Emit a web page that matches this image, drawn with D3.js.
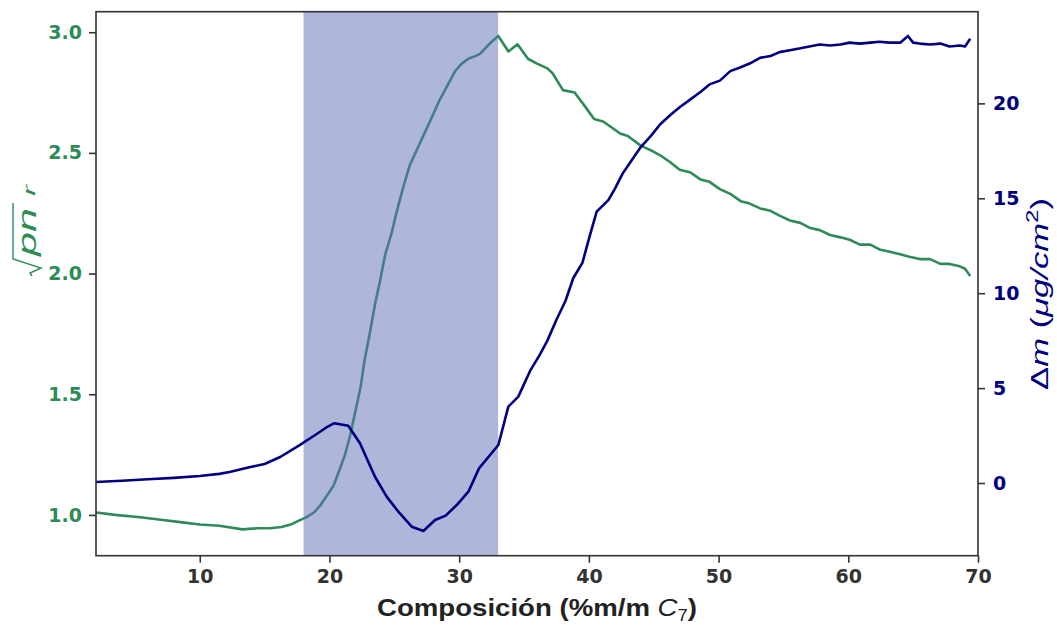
<!DOCTYPE html>
<html>
<head>
<meta charset="utf-8">
<script src="https://cdn.jsdelivr.net/npm/d3@7"></script>
<style>
  html, body { margin: 0; padding: 0; background: #fff; }
  svg { display: block; font-family: "Liberation Sans", Arial, sans-serif; }
</style>
</head>
<body>
<svg id="chart" width="1057" height="625"></svg>
<script>
// ---- Data ----
const xTicks = [10, 20, 30, 40, 50, 60, 70];
const leftTicks = [1.0, 1.5, 2.0, 2.5, 3.0];
const rightTicks = [0, 5, 10, 15, 20];
const bandRange = [18, 33];

const greenX = [2, 3.5, 5.4, 7, 8.5, 10, 11.5, 13.3, 14.5, 15.4, 16.3, 17, 17.6, 18.2, 18.8, 19.3, 19.8, 20.3, 20.8, 21.2, 21.6, 22, 22.4, 22.7, 23.1, 23.5, 23.9, 24.3, 24.8, 25.2, 25.7, 26.2, 26.8, 27.4, 28, 28.5, 29.1, 29.7, 30.2, 30.7, 31.2, 31.6, 32.3, 33.0, 33.8, 34.5, 35.3, 36.0, 36.8, 37.2, 38.0, 38.9, 39.6, 40.4, 41.1, 41.9, 42.4, 43.0, 44.0, 44.8, 45.5, 46.3, 47, 47.8, 48.6, 49.3, 50.1, 50.9, 51.7, 52.4, 53.2, 54, 54.7, 55.5, 56.3, 57, 57.8, 58.6, 59.4, 60.1, 60.9, 61.7, 62.4, 63.2, 64, 64.7, 65.5, 66.3, 67.1, 67.8, 68.6, 69.0, 69.4];
const greenY = [1.01, 1.0, 0.99, 0.98, 0.97, 0.96, 0.955, 0.94, 0.945, 0.945, 0.95, 0.96, 0.975, 0.99, 1.01, 1.04, 1.08, 1.12, 1.19, 1.25, 1.33, 1.43, 1.53, 1.64, 1.75, 1.87, 1.97, 2.08, 2.17, 2.26, 2.36, 2.45, 2.52, 2.59, 2.66, 2.72, 2.78, 2.84, 2.87, 2.89, 2.90, 2.91, 2.95, 2.985, 2.92, 2.95, 2.89, 2.87, 2.85, 2.83, 2.76, 2.75, 2.70, 2.64, 2.63, 2.60, 2.58, 2.57, 2.53, 2.51, 2.49, 2.46, 2.43, 2.42, 2.39, 2.38, 2.35, 2.33, 2.30, 2.29, 2.27, 2.26, 2.24, 2.22, 2.21, 2.19, 2.18, 2.16, 2.15, 2.14, 2.12, 2.12, 2.10, 2.09, 2.08, 2.07, 2.06, 2.06, 2.04, 2.04, 2.03, 2.02, 1.99];

const blueX = [2, 4, 6, 8, 10, 11.5, 12.3, 13.9, 15, 16.2, 17.7, 18.9, 19.7, 20.37, 21.45, 22.35, 23.51, 24.41, 25.31, 26.34, 27.24, 28.14, 28.96, 29.81, 30.71, 31.53, 33.02, 33.79, 34.56, 35.5, 36.2, 36.8, 37.5, 38.2, 38.8, 39.5, 40.1, 40.6, 41.5, 42.0, 42.6, 43.3, 44.0, 44.8, 45.5, 46.3, 47, 47.8, 48.6, 49.3, 50.1, 50.9, 51.7, 52.4, 53.2, 54.0, 54.7, 55.5, 56.3, 57.0, 57.8, 58.6, 59.4, 60.1, 60.9, 61.7, 62.4, 63.2, 64.0, 64.6, 65.0, 65.5, 66.3, 67.1, 67.8, 68.6, 69.0, 69.4];
const blueY = [0.05, 0.12, 0.2, 0.27, 0.37, 0.48, 0.58, 0.84, 1.0, 1.37, 2.0, 2.53, 2.9, 3.15, 3.02, 2.09, 0.33, -0.72, -1.51, -2.30, -2.53, -1.95, -1.72, -1.16, -0.46, 0.77, 2.0, 4.02, 4.55, 5.95, 6.74, 7.5, 8.6, 9.6, 10.8, 11.6, 13.1, 14.3, 14.9, 15.5, 16.3, 17.0, 17.7, 18.3, 18.9, 19.4, 19.8, 20.2, 20.6, 21.0, 21.2, 21.7, 21.9, 22.1, 22.4, 22.5, 22.7, 22.8, 22.9, 23.0, 23.1, 23.05, 23.1, 23.2, 23.15, 23.2, 23.25, 23.2, 23.2, 23.55, 23.2, 23.15, 23.1, 23.15, 23.0, 23.05, 23.0, 23.4];

// ---- Layout ----
const svg = d3.select("#chart");
const L = 96, R = 978, T = 11.7, B = 555.7;
const green = "#2e8b57", navy = "#000080", axisCol = "#333333";

const x = d3.scaleLinear().domain([2, 70]).range([L, R]);
const yL = d3.scaleLinear().domain([0.831, 3.085]).range([B, T]);
const yR = d3.scaleLinear().domain([-3.83, 24.83]).range([B, T]);

// green line
const gLine = d3.line().x(d => x(d[0])).y(d => yL(d[1]));
svg.append("path")
  .datum(greenX.map((v, i) => [v, greenY[i]]))
  .attr("d", gLine).attr("fill", "none").attr("stroke", green).attr("stroke-width", 2.6)
  .attr("stroke-linejoin", "round");

// shaded band
svg.append("rect")
  .attr("x", x(bandRange[0])).attr("width", x(bandRange[1]) - x(bandRange[0]))
  .attr("y", T).attr("height", B - T)
  .attr("fill", "#5d6db5").attr("opacity", 0.5);

// blue line
const bLine = d3.line().x(d => x(d[0])).y(d => yR(d[1]));
svg.append("path")
  .datum(blueX.map((v, i) => [v, blueY[i]]))
  .attr("d", bLine).attr("fill", "none").attr("stroke", navy).attr("stroke-width", 2.6)
  .attr("stroke-linejoin", "round");

// frame
svg.append("rect").attr("x", L).attr("y", T).attr("width", R - L).attr("height", B - T)
  .attr("fill", "none").attr("stroke", axisCol).attr("stroke-width", 1.6);

function styleAxis(g, col) {
  g.select(".domain").remove();
  g.selectAll(".tick line").attr("stroke", axisCol).attr("stroke-width", 1.6);
  g.selectAll(".tick text").attr("fill", col).style("font-size", "19px").style("font-weight", "bold")
    .style("font-family", "'DejaVu Sans', sans-serif");
}

const xAxis = svg.append("g").attr("transform", `translate(0,${B})`)
  .call(d3.axisBottom(x).tickValues(xTicks).tickSize(7).tickPadding(7).tickFormat(d3.format("d")));
styleAxis(xAxis, "#333333");

const lAxis = svg.append("g").attr("transform", `translate(${L},0)`)
  .call(d3.axisLeft(yL).tickValues(leftTicks).tickSize(7).tickPadding(7).tickFormat(d3.format(".1f")));
styleAxis(lAxis, green);

const rAxis = svg.append("g").attr("transform", `translate(${R},0)`)
  .call(d3.axisRight(yR).tickValues(rightTicks).tickSize(7).tickPadding(8).tickFormat(d3.format("d")));
styleAxis(rAxis, navy);

// x label
const xl = svg.append("text").attr("x", 537).attr("y", 616)
  .attr("text-anchor", "middle").attr("fill", "#222")
  .style("font-size", "24px").style("font-weight", "bold")
  .attr("textLength", 320).attr("lengthAdjust", "spacingAndGlyphs");
xl.append("tspan").text("Composición (%m/m ");
xl.append("tspan").text("C").style("font-style", "italic").style("font-weight", "normal");
xl.append("tspan").text("7").attr("dy", 5).style("font-size", "16px").style("font-weight", "normal");
xl.append("tspan").text(")").attr("dy", -5);

// left label: sqrt(pn_r) drawn in a rotated frame (text x runs up the page)
const lg = svg.append("g").attr("transform", "translate(40,276) rotate(-90)");
lg.append("path")
  .attr("d", "M0,-8 L3,-10 L8,1 L17,-27 L73,-27")
  .attr("fill", "none").attr("stroke", green).attr("stroke-width", 1.4).attr("stroke-linejoin", "miter");
lg.append("text").attr("x", 20).attr("y", -4).attr("fill", green)
  .style("font-size", "26px").style("font-style", "italic")
  .attr("textLength", 48).attr("lengthAdjust", "spacingAndGlyphs").text("pn");
lg.append("text").attr("x", 80).attr("y", -5).attr("fill", green)
  .style("font-size", "17px").style("font-style", "italic")
  .attr("textLength", 11).attr("lengthAdjust", "spacingAndGlyphs").text("r");

// right label
const rl = svg.append("text").attr("transform", "translate(1048,294) rotate(-90)")
  .attr("text-anchor", "middle").attr("fill", navy).style("font-size", "23px")
  .attr("textLength", 192).attr("lengthAdjust", "spacingAndGlyphs");
rl.append("tspan").text("Δ");
rl.append("tspan").text("m").style("font-style", "italic");
rl.append("tspan").text(" (");
rl.append("tspan").text("μg/cm").style("font-style", "italic");
rl.append("tspan").text("2").attr("dy", -10).style("font-size", "16px");
rl.append("tspan").text(")").attr("dy", 10);
</script>
</body>
</html>
